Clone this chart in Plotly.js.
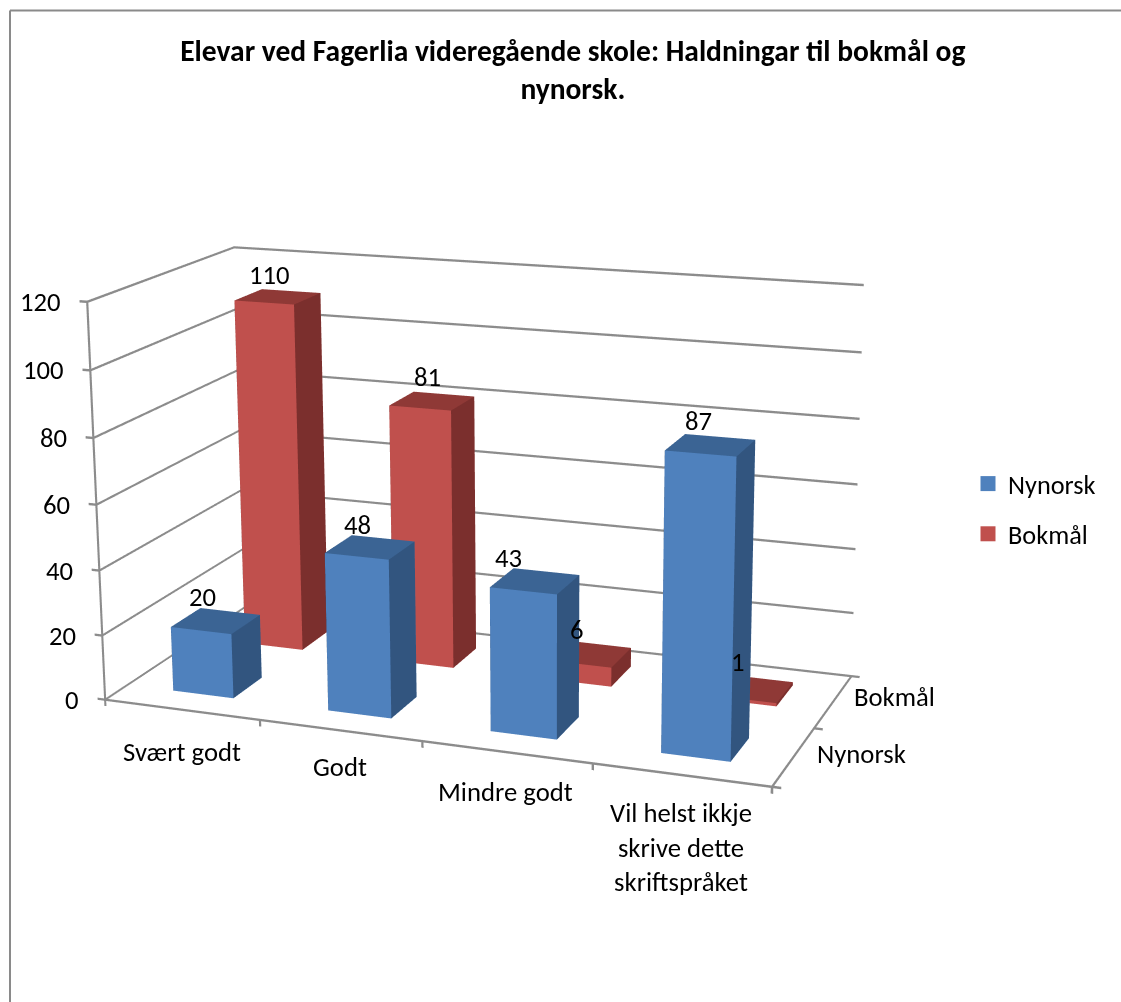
<!DOCTYPE html>
<html><head><meta charset="utf-8"><script src="https://cdn.plot.ly/plotly-3.0.1.min.js"></script>
<style>html,body{margin:0;padding:0;background:#fff;overflow:hidden}
#w{position:relative;width:1121px;height:1002px;overflow:hidden}
#c{position:absolute;left:0;top:-612px;width:1121px;height:2145px}</style></head>
<body><div id="w"><div id="c"></div></div><script>
const categories=["Svært godt","Godt","Mindre godt","Vil helst ikkje<br>skrive dette<br>skriftspråket"];
const seriesNames=["Nynorsk","Bokmål"];
const nynorsk=[20,48,43,87];
const bokmaal=[110,81,6,1];
const zTicks=[0,20,40,60,80,100,120];
const palette=[{front:"#4F81BD",side:"#32557F",top:"#3B6494"},{front:"#C0504D",side:"#7B2F2D",top:"#8F3936"}];
const FONT="Carlito, Calibri, Lato, 'Open Sans', sans-serif";
const H=2145, TOP=612, py=y=>1-(y+TOP)/H;
const hw=0.197, hd=0.205, rowOffset=[0,0.015];
const X0=-0.5,X1=3.5,Y0=-0.5,Y1=1.5;
const grid="#8C8C8C";
const TZ=0.72, TX=0.014;   // line thickness in z units / x units
function box(cx,cy,v,col){
  const x=[cx-hw,cx+hw,cx+hw,cx-hw,cx-hw,cx+hw,cx+hw,cx-hw];
  const y=[cy-hd,cy-hd,cy+hd,cy+hd,cy-hd,cy-hd,cy+hd,cy+hd];
  const z=[0,0,0,0,v,v,v,v];
  const i=[0,0,1,1,2,2,3,3,4,4,0,0], j=[1,5,2,6,3,7,0,4,5,6,1,2], k=[5,4,6,5,7,6,4,7,6,7,2,3];
  const fc=[col.front,col.front,col.side,col.side,col.top,col.top,col.side,col.side,col.top,col.top,col.front,col.front];
  return {type:"mesh3d",x,y,z,i,j,k,facecolor:fc,flatshading:true,showscale:false,hoverinfo:"skip",
    lighting:{ambient:1,diffuse:0,specular:0,roughness:1,fresnel:0},showlegend:false};
}
const L={x:[],y:[],z:[],i:[],j:[],k:[]};
function strip(a,b,d){ // thin quad from a to b, widened along d
  const n=L.x.length;
  [[a,-1],[b,-1],[b,1],[a,1]].forEach(([p,s])=>{L.x.push(p[0]+s*d[0]/2);L.y.push(p[1]+s*d[1]/2);L.z.push(p[2]+s*d[2]/2);});
  L.i.push(n,n);L.j.push(n+1,n+2);L.k.push(n+2,n+3);
}
const dz=[0,0,TZ], dx=[TX,0,0];
zTicks.forEach(v=>{
  strip([X0,Y0,v],[X0,Y1,v],dz);            // left wall
  strip([X0,Y1,v],[X1,Y1,v],dz);            // back wall
  strip([X0-0.05,Y0,v],[X0,Y0,v],dz);       // z tick
});
strip([X0,Y0,0],[X0,Y0,120],dx);            // z axis
strip([X0,Y0,0],[X1,Y0,0],dz);              // x axis
strip([X1,Y0,0],[X1,Y1,0],dx);              // y axis
[-0.5,0.5,1.5,2.5,3.5].forEach(t=>strip([t,Y0,0],[t,Y0,-2],dx));
[-0.5,0.5,1.5].forEach(t=>strip([X1,t,0],[X1+0.05,t,0],dz));
const traces=[Object.assign({type:"mesh3d",color:grid,flatshading:true,showscale:false,hoverinfo:"skip",
  lighting:{ambient:1,diffuse:0,specular:0,roughness:1,fresnel:0},showlegend:false},L)];
[nynorsk,bokmaal].forEach((vals,s)=>vals.forEach((v,c)=>traces.push(box(c+rowOffset[s],s,v,palette[s]))));
seriesNames.forEach((n,s)=>traces.push({type:"scatter3d",mode:"markers",name:n,legendgroup:n,x:[null],y:[null],z:[null],
  marker:{symbol:"square",size:15,color:palette[s].front},showlegend:true,hoverinfo:"skip"}));
const fnt={size:26.7,color:"#000",family:FONT};
const ann=[];
const valShift=[[[-13,24],[-12,22],[-26,23],[-12,24]],[[-6,22],[-2,24],[-11,24],[-12,26]]];
[nynorsk,bokmaal].forEach((vals,s)=>vals.forEach((v,c)=>ann.push({x:c,y:s,z:v,text:String(v),showarrow:false,xshift:valShift[s][c][0],yshift:valShift[s][c][1],font:fnt})));
const catShift=[[0,-42],[0,-37],[-1,-40],[0,-73]];
categories.forEach((t,c)=>ann.push({x:c,y:Y0,z:0,text:t,showarrow:false,xshift:catShift[c][0],yshift:catShift[c][1],font:fnt}));
const serShift=[[68,3],[61,4]];
seriesNames.forEach((t,s)=>ann.push({x:X1,y:s,z:0,text:t,showarrow:false,xshift:serShift[s][0],yshift:serShift[s][1],font:fnt}));
zTicks.forEach(v=>ann.push({x:X0,y:Y0,z:v,text:String(v),showarrow:false,xanchor:"right",xshift:-24,font:fnt}));
const layout={width:1121,height:H,margin:{l:0,r:0,t:0,b:0,pad:0},paper_bgcolor:"#fff",
 title:{text:"Elevar ved Fagerlia videregående skole: Haldningar til bokmål og<br>nynorsk.",x:0.511,xanchor:"center",y:py(60.5),yanchor:"middle",font:{size:29.5,color:"#000",family:FONT,weight:700}},
 font:{family:FONT,size:26,color:"#000"},
 legend:{x:968/1121,y:py(509),xanchor:"left",yanchor:"middle",font:{size:26.3,family:FONT},bgcolor:"rgba(0,0,0,0)",tracegroupgap:13},
 shapes:[{type:"line",xref:"paper",yref:"paper",x0:10/1121,x1:10/1121,y0:py(1002),y1:py(10.5),line:{color:"#8A8A8A",width:2}},
         {type:"line",xref:"paper",yref:"paper",x0:10/1121,x1:1,y0:py(10.5),y1:py(10.5),line:{color:"#8A8A8A",width:2}}],
 scene:{domain:{x:[0,912/1121],y:[0,1]},
  aspectmode:"manual",aspectratio:{x:1.7323,y:0.8109,z:1.03333},
  camera:{eye:{x:2.167,y:-5.714,z:1.6707},center:{x:-0.063,y:-0.002,z:0.081},up:{x:-0.083,y:0.2369,z:0.968},projection:{type:"perspective"}},
  annotations:ann,
  xaxis:{visible:false,range:[-0.55,3.55]},
  yaxis:{visible:false,range:[-0.52,1.52]},
  zaxis:{visible:false,range:[-2,122]}
 }};
Plotly.newPlot("c",traces,layout,{displayModeBar:false});
</script></body></html>
